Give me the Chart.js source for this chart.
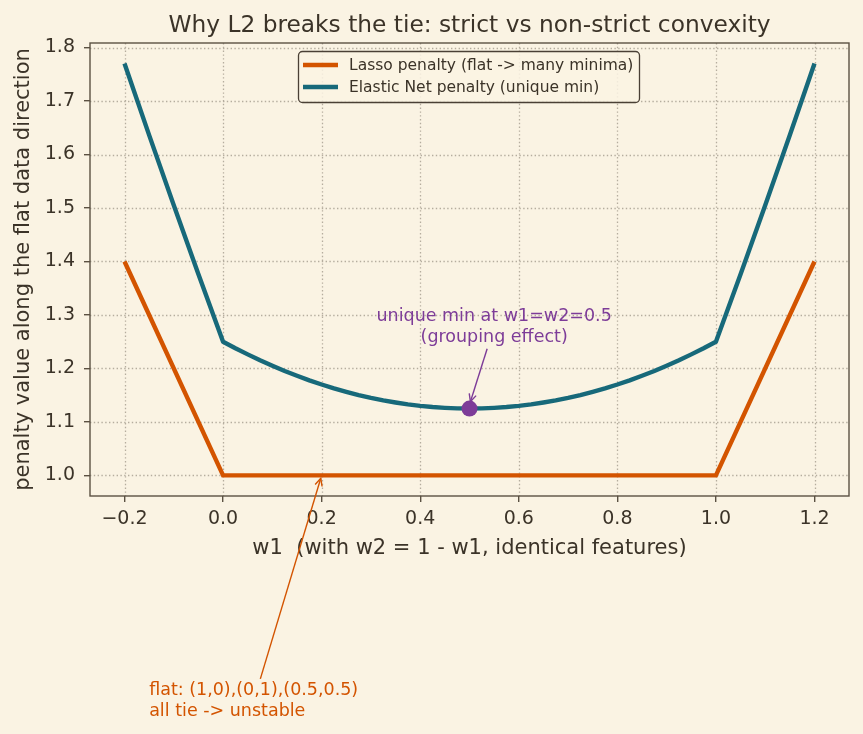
<!DOCTYPE html>
<html>
<head>
<meta charset="utf-8">
<script src="https://cdn.jsdelivr.net/npm/chart.js@4/dist/chart.umd.min.js"></script>
<style>
  html, body { margin: 0; padding: 0; background: #faf3e3; }
  canvas { display: block; }
</style>
</head>
<body>
<canvas id="c" width="863" height="734"></canvas>
<script>
// ---- data ----
const elasticW = [-0.2, -0.15, -0.1, -0.05,
                  0.0, 0.025, 0.05, 0.075, 0.1, 0.125, 0.15, 0.175, 0.2, 0.225, 0.25, 0.275,
                  0.3, 0.325, 0.35, 0.375, 0.4, 0.425, 0.45, 0.475, 0.5,
                  0.525, 0.55, 0.575, 0.6, 0.625, 0.65, 0.675, 0.7, 0.725, 0.75, 0.775,
                  0.8, 0.825, 0.85, 0.875, 0.9, 0.925, 0.95, 0.975, 1.0,
                  1.05, 1.1, 1.15, 1.2];
const elasticVals = [1.77, 1.6363, 1.505, 1.3763,
                     1.25, 1.2378, 1.2263, 1.2153, 1.205, 1.1953, 1.1863, 1.1778, 1.17, 1.1628, 1.1563, 1.1503,
                     1.145, 1.1403, 1.1363, 1.1328, 1.13, 1.1278, 1.1263, 1.1253, 1.125,
                     1.1253, 1.1263, 1.1278, 1.13, 1.1328, 1.1363, 1.1403, 1.145, 1.1503, 1.1563, 1.1628,
                     1.17, 1.1778, 1.1863, 1.1953, 1.205, 1.2153, 1.2263, 1.2378, 1.25,
                     1.3763, 1.505, 1.6363, 1.77];
const lassoW = [-0.2, 0.0, 1.0, 1.2];
const lassoVals = [1.4, 1.0, 1.0, 1.4];
const minW = [0.5];
const minVals = [1.125];
const xTicks = [-0.2, 0.0, 0.2, 0.4, 0.6, 0.8, 1.0, 1.2];
const yTicks = [1.0, 1.1, 1.2, 1.3, 1.4, 1.5, 1.6, 1.7, 1.8];
const seriesNames = ['Lasso penalty (flat -> many minima)', 'Elastic Net penalty (unique min)'];
const titleText = 'Why L2 breaks the tie: strict vs non-strict convexity';
const xLabel = 'w1  (with w2 = 1 - w1, identical features)';
const yLabel = 'penalty value along the flat data direction';
const minNote = ['unique min at w1=w2=0.5', '(grouping effect)'];
const flatNote = ['flat: (1,0),(0,1),(0.5,0.5)', 'all tie -> unstable'];

// ---- styles ----
const BG = '#faf3e3';
const INK = '#3b3328';
const SPINE = '#5b5142';
const ORANGE = '#d35400';
const TEAL = '#17697a';
const PURPLE = '#7d3c98';
const FONT = '"DejaVu Sans", sans-serif';

const toXY = (xs, ys) => xs.map((x, i) => ({ x: x, y: ys[i] }));

function arrow(ctx, x0, y0, x1, y1, color) {
  ctx.save();
  ctx.strokeStyle = color;
  ctx.lineWidth = 1.4;
  ctx.beginPath();
  ctx.moveTo(x0, y0);
  ctx.lineTo(x1, y1);
  ctx.stroke();
  const a = Math.atan2(y1 - y0, x1 - x0);
  const hl = 7.5, hw = 3.6;
  ctx.beginPath();
  ctx.moveTo(x1 - hl * Math.cos(a) + hw * Math.sin(a), y1 - hl * Math.sin(a) - hw * Math.cos(a));
  ctx.lineTo(x1, y1);
  ctx.lineTo(x1 - hl * Math.cos(a) - hw * Math.sin(a), y1 - hl * Math.sin(a) + hw * Math.cos(a));
  ctx.stroke();
  ctx.restore();
}

// text block with last-line baseline at (px,py); returns bbox
function textBlock(ctx, lines, px, py, align, color, size) {
  ctx.save();
  ctx.font = size + 'px ' + FONT;
  ctx.fillStyle = color;
  ctx.textAlign = align;
  ctx.textBaseline = 'alphabetic';
  const lh = size * 1.2;
  let w = 0;
  lines.forEach((l, i) => {
    const y = py - (lines.length - 1 - i) * lh;
    ctx.fillText(l, px, y);
    w = Math.max(w, ctx.measureText(l).width);
  });
  ctx.restore();
  const left = align === 'center' ? px - w / 2 : px;
  return { left: left, right: left + w, top: py - (lines.length - 1) * lh - size * 0.76, bottom: py + size * 0.24 };
}

function annotate(ctx, box, tx, ty, color) {
  const cx = (box.left + box.right) / 2, cy = (box.top + box.bottom) / 2;
  const dx = tx - cx, dy = ty - cy;
  let t = 1;
  if (dx !== 0) t = Math.min(t, Math.abs(((dx > 0 ? box.right : box.left) - cx) / dx));
  if (dy !== 0) t = Math.min(t, Math.abs(((dy > 0 ? box.bottom : box.top) - cy) / dy));
  const L = Math.hypot(dx, dy);
  const sx = cx + dx * t + dx / L * 3, sy = cy + dy * t + dy / L * 3;
  const ex = tx - dx / L * 3, ey = ty - dy / L * 3;
  arrow(ctx, sx, sy, ex, ey, color);
}

const decor = {
  id: 'decor',
  beforeDraw(chart) {
    const ctx = chart.ctx;
    ctx.save();
    ctx.fillStyle = BG;
    ctx.fillRect(0, 0, chart.width, chart.height);
    ctx.restore();
  },
  beforeDatasetsDraw(chart) {
    const ctx = chart.ctx, a = chart.chartArea;
    const xs = chart.scales.x, ys = chart.scales.y;
    ctx.save();
    ctx.strokeStyle = '#b5ad9e';
    ctx.lineWidth = 1.3;
    ctx.setLineDash([1.4, 2.4]);
    xTicks.forEach(v => {
      const p = Math.round(xs.getPixelForValue(v)) + 0.5;
      ctx.beginPath(); ctx.moveTo(p, a.top); ctx.lineTo(p, a.bottom); ctx.stroke();
    });
    yTicks.forEach(v => {
      const p = Math.round(ys.getPixelForValue(v)) + 0.5;
      ctx.beginPath(); ctx.moveTo(a.left, p); ctx.lineTo(a.right, p); ctx.stroke();
    });
    ctx.restore();
  },
  afterDraw(chart) {
    const ctx = chart.ctx, a = chart.chartArea;
    const xs = chart.scales.x, ys = chart.scales.y;
    // frame
    ctx.save();
    ctx.strokeStyle = SPINE;
    ctx.lineWidth = 1.4;
    ctx.strokeRect(a.left, a.top, a.right - a.left, a.bottom - a.top);
    ctx.restore();

    // title
    ctx.save();
    ctx.fillStyle = INK;
    ctx.textAlign = 'center';
    ctx.textBaseline = 'alphabetic';
    ctx.font = '23.3px ' + FONT;
    ctx.fillText(titleText, (a.left + a.right) / 2, 32);
    // x label
    ctx.font = '21px ' + FONT;
    ctx.fillText(xLabel, (a.left + a.right) / 2, 554);
    // y label
    ctx.translate(29, (a.top + a.bottom) / 2);
    ctx.rotate(-Math.PI / 2);
    ctx.fillText(yLabel, 0, 0);
    ctx.restore();

    // legend
    ctx.save();
    const lx = 298.5, ly = 51.5, lw = 341, lh = 51;
    ctx.beginPath();
    ctx.roundRect(lx, ly, lw, lh, 4);
    ctx.fillStyle = 'rgba(250,243,227,0.85)';
    ctx.fill();
    ctx.strokeStyle = '#4a4035';
    ctx.lineWidth = 1.3;
    ctx.stroke();
    const cols = [ORANGE, TEAL];
    const rows = [65, 87];
    ctx.font = '15.5px ' + FONT;
    ctx.textBaseline = 'middle';
    ctx.textAlign = 'left';
    rows.forEach((ry, i) => {
      ctx.strokeStyle = cols[i];
      ctx.lineWidth = 4.4;
      ctx.beginPath(); ctx.moveTo(303, ry); ctx.lineTo(338, ry); ctx.stroke();
      ctx.fillStyle = INK;
      ctx.fillText(seriesNames[i], 349, ry + 1);
    });
    ctx.restore();

    // annotations
    const mbox = textBlock(ctx, minNote, xs.getPixelForValue(0.55), ys.getPixelForValue(1.25), 'center', PURPLE, 17.5);
    annotate(ctx, mbox, xs.getPixelForValue(minW[0]), ys.getPixelForValue(minVals[0]) - 4, PURPLE);
    const fbox = textBlock(ctx, flatNote, xs.getPixelForValue(-0.15), ys.getPixelForValue(0.55), 'left', ORANGE, 17.5);
    annotate(ctx, fbox, xs.getPixelForValue(0.2), ys.getPixelForValue(1.0), ORANGE);
  }
};

new Chart(document.getElementById('c'), {
  type: 'scatter',
  data: {
    datasets: [
      { label: seriesNames[0], data: toXY(lassoW, lassoVals), showLine: true, borderColor: ORANGE,
        borderWidth: 4.4, pointRadius: 0, tension: 0, order: 2 },
      { label: seriesNames[1], data: toXY(elasticW, elasticVals), showLine: true, borderColor: TEAL,
        borderWidth: 4.4, pointRadius: 0, tension: 0, order: 1, borderJoinStyle: 'round' },
      { label: 'min', data: toXY(minW, minVals), showLine: false, backgroundColor: PURPLE,
        borderColor: PURPLE, pointRadius: 8, borderWidth: 0, order: 0 }
    ]
  },
  options: {
    responsive: false,
    devicePixelRatio: 1,
    animation: false,
    layout: { padding: { left: 0, right: 14, top: 43, bottom: 178 } },
    plugins: { legend: { display: false }, title: { display: false }, tooltip: { enabled: false } },
    scales: {
      x: {
        type: 'linear', min: -0.27, max: 1.27,
        afterBuildTicks: s => { s.ticks = xTicks.map(v => ({ value: v })); },
        afterFit: s => { s.height = 60; },
        ticks: { autoSkip: false, maxRotation: 0, color: INK, font: { family: FONT, size: 19 }, padding: 6,
                 callback: v => (v < 0 ? '\u2212' : '') + Math.abs(v).toFixed(1) },
        grid: { display: true, drawOnChartArea: false, drawTicks: true, tickLength: 6, color: SPINE, lineWidth: 1.4 },
        border: { display: false }
      },
      y: {
        type: 'linear', min: 0.9615, max: 1.8085,
        afterBuildTicks: s => { s.ticks = yTicks.map(v => ({ value: v })); },
        afterFit: s => { s.width = 90; },
        ticks: { autoSkip: false, color: INK, font: { family: FONT, size: 19 }, padding: 9,
                 callback: v => v.toFixed(1) },
        grid: { display: true, drawOnChartArea: false, drawTicks: true, tickLength: 6, color: SPINE, lineWidth: 1.4 },
        border: { display: false }
      }
    }
  },
  plugins: [decor]
});
</script>
</body>
</html>
